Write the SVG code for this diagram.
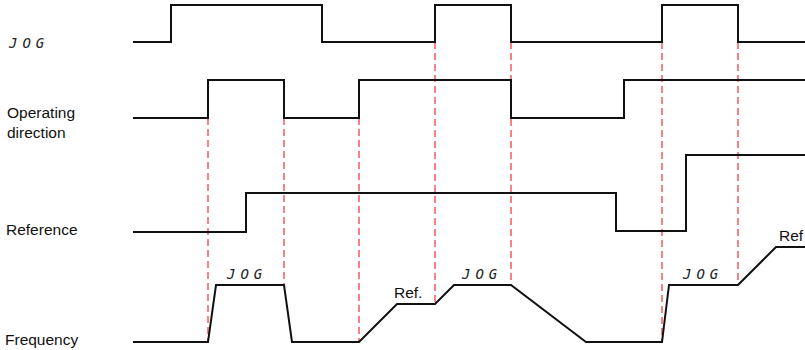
<svg xmlns="http://www.w3.org/2000/svg" width="805" height="350" viewBox="0 0 805 350">
<style>
.sig{fill:none;stroke:#111;stroke-width:2;stroke-linejoin:miter}
.mark{fill:none;stroke:#ee4048;stroke-width:1.3;stroke-dasharray:7,4}
.lbl{font-family:"Liberation Sans",Arial,sans-serif;font-size:15.5px;fill:#111}
.jog{font-family:"DejaVu Sans Mono","Liberation Mono",monospace;font-size:14px;font-style:italic;letter-spacing:5px;fill:#222}
</style>
<rect width="805" height="350" fill="#fff"/>
<g id="markers">
<line class="mark" x1="208" y1="118" x2="208" y2="342"/>
<line class="mark" x1="284" y1="118" x2="284" y2="285"/>
<line class="mark" x1="359" y1="118" x2="359" y2="342"/>
<line class="mark" x1="435" y1="42" x2="435" y2="304"/>
<line class="mark" x1="511" y1="42" x2="511" y2="285"/>
<line class="mark" x1="662" y1="42" x2="662" y2="342"/>
<line class="mark" x1="738" y1="42" x2="738" y2="285"/>
</g>
<g id="jog-signal">
<text class="jog" x="9" y="48">JOG</text>
<polyline class="sig" points="133,42 171,42 171,5 322,5 322,42 435,42 435,5 511,5 511,42 662,42 662,5 738,5 738,42 805,42"/>
</g>
<g id="direction-signal">
<text class="lbl" x="7" y="118">Operating</text>
<text class="lbl" x="7" y="138">direction</text>
<polyline class="sig" points="133,118 208,118 208,80 284,80 284,118 359,118 359,80 511,80 511,118 624,118 624,80 805,80"/>
</g>
<g id="reference-signal">
<text class="lbl" x="6" y="235">Reference</text>
<polyline class="sig" points="133,232 246,232 246,193 616,193 616,231 686,231 686,155 805,155"/>
</g>
<g id="frequency-signal">
<text class="lbl" x="5" y="345">Frequency</text>
<polyline class="sig" points="133,342 208,342 216,285 284,285 292,342 359,342 397,304 435,304 454,285 511,285 586,342 662,342 669,285 738,285 776,247 805,247"/>
<text class="jog" x="227" y="279">JOG</text>
<text class="jog" x="462" y="279">JOG</text>
<text class="jog" x="683" y="279">JOG</text>
<text class="lbl" x="394" y="298">Ref.</text>
<text class="lbl" x="779" y="241">Ref</text>
</g>
</svg>
